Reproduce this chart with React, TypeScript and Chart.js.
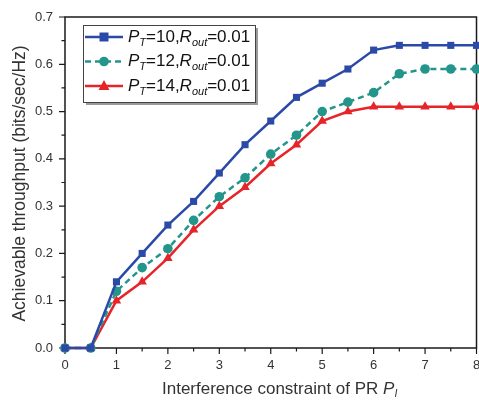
import React, { useEffect, useRef } from 'react';
import { Chart, registerables } from 'chart.js';
Chart.register(...registerables);

const xValues = [0, 0.5, 1, 1.5, 2, 2.5, 3, 3.5, 4, 4.5, 5, 5.5, 6, 6.5, 7, 7.5, 8];
const seriesPT10 = [0, 0, 0.14, 0.20, 0.26, 0.31, 0.37, 0.43, 0.48, 0.53, 0.56, 0.59, 0.63, 0.64, 0.64, 0.64, 0.64];
const seriesPT12 = [0, 0, 0.12, 0.17, 0.21, 0.27, 0.32, 0.36, 0.41, 0.45, 0.50, 0.52, 0.54, 0.58, 0.59, 0.59, 0.59];
const seriesPT14 = [0, 0, 0.10, 0.14, 0.19, 0.25, 0.30, 0.34, 0.39, 0.43, 0.48, 0.50, 0.51, 0.51, 0.51, 0.51, 0.51];
const ptValues = ['10', '12', '14'];
const routValue = '0.01';
const xMinorTicks = [0, 0.5, 1, 1.5, 2, 2.5, 3, 3.5, 4, 4.5, 5, 5.5, 6, 6.5, 7, 7.5, 8];
const yMinorTicks = [0, 0.05, 0.1, 0.15, 0.2, 0.25, 0.3, 0.35, 0.4, 0.45, 0.5, 0.55, 0.6, 0.65, 0.7];
const yTitle = 'Achievable throughput (bits/sec/Hz)';
const xTitle = 'Interference constraint of PR ';

const BLUE = '#2b4aa8';
const TEAL = '#24958a';
const RED = '#e5252a';
const FONT = '"Liberation Sans", Arial, sans-serif';

type Seg = { t: string; it?: boolean; sub?: boolean };

function drawRich(ctx: CanvasRenderingContext2D, segs: Seg[], x: number, y: number, size: number, subSize: number, color: string) {
  ctx.fillStyle = color;
  ctx.textBaseline = 'middle';
  ctx.textAlign = 'left';
  let cx = x;
  for (const s of segs) {
    const sz = s.sub ? subSize : size;
    ctx.font = `${s.it ? 'italic ' : ''}${sz}px ${FONT}`;
    ctx.fillText(s.t, cx, s.sub ? y + size * 0.32 : y);
    cx += ctx.measureText(s.t).width;
  }
  return cx - x;
}

function marker(ctx: CanvasRenderingContext2D, kind: string, x: number, y: number, color: string) {
  ctx.fillStyle = color;
  ctx.beginPath();
  if (kind === 'rect') {
    ctx.rect(x - 4.5, y - 4.5, 9, 9);
  } else if (kind === 'circle') {
    ctx.arc(x, y, 4.8, 0, Math.PI * 2);
  } else {
    ctx.moveTo(x, y - 6);
    ctx.lineTo(x + 5.5, y + 4);
    ctx.lineTo(x - 5.5, y + 4);
    ctx.closePath();
  }
  ctx.fill();
}

const decor = {
  id: 'decor',
  beforeDatasetsDraw(chart: any) {
    const { ctx, chartArea: a, scales } = chart;
    const xs = scales.x, ys = scales.y;
    ctx.save();
    ctx.strokeStyle = '#1a1a1a';
    ctx.lineWidth = 1.5;
    ctx.strokeRect(a.left, a.top, a.right - a.left, a.bottom - a.top);
    ctx.lineWidth = 1.2;
    ctx.beginPath();
    for (const v of xMinorTicks) {
      const px = xs.getPixelForValue(v);
      const len = Math.abs(v - Math.round(v)) < 1e-6 ? 6 : 3.5;
      ctx.moveTo(px, a.bottom);
      ctx.lineTo(px, a.bottom + len);
    }
    for (const v of yMinorTicks) {
      const py = ys.getPixelForValue(v);
      const major = Math.abs(v * 10 - Math.round(v * 10)) < 1e-6;
      const len = major ? 6 : 3.5;
      ctx.moveTo(a.left, py);
      ctx.lineTo(a.left - len, py);
    }
    ctx.stroke();
    ctx.restore();
  },
  afterDraw(chart: any) {
    const { ctx, chartArea: a } = chart;
    ctx.save();
    // y title
    ctx.save();
    ctx.translate(20, 183.5);
    ctx.rotate(-Math.PI / 2);
    ctx.font = `17.5px ${FONT}`;
    ctx.fillStyle = '#333';
    ctx.textAlign = 'center';
    ctx.textBaseline = 'middle';
    ctx.fillText(yTitle, 0, 0);
    ctx.restore();
    // x title
    const xsegs: Seg[] = [{ t: xTitle }, { t: 'P', it: true }, { t: 'I', it: true, sub: true }];
    drawRich(ctx, xsegs, 162, 389, 17, 10.5, '#333');

    // legend
    const bx = a.left + 18, by = a.top + 8, bw = 172, bh = 77;
    ctx.fillStyle = '#9a9a9a';
    ctx.fillRect(bx + 3, by + 3, bw, bh);
    ctx.fillStyle = '#fff';
    ctx.fillRect(bx, by, bw, bh);
    ctx.strokeStyle = '#444';
    ctx.lineWidth = 1;
    ctx.strokeRect(bx + 0.5, by + 0.5, bw, bh);
    const rows = [
      { c: BLUE, k: 'rect', dash: [] as number[] },
      { c: TEAL, k: 'circle', dash: [6, 4] },
      { c: RED, k: 'tri', dash: [] as number[] },
    ];
    rows.forEach((r, i) => {
      const y = by + 12 + i * 24.5;
      ctx.strokeStyle = r.c;
      ctx.lineWidth = 2.5;
      ctx.setLineDash(r.dash);
      ctx.beginPath();
      ctx.moveTo(bx + 2, y);
      ctx.lineTo(bx + 40, y);
      ctx.stroke();
      ctx.setLineDash([]);
      marker(ctx, r.k, bx + 21, y, r.c);
      drawRich(ctx, [
        { t: 'P', it: true }, { t: 'T', it: true, sub: true }, { t: '=' + ptValues[i] + ',' },
        { t: 'R', it: true }, { t: 'out', it: true, sub: true }, { t: '=' + routValue },
      ], bx + 45, y, 17, 11, '#111');
    });
    ctx.restore();
  },
};

export default function App() {
  const ref = useRef<HTMLCanvasElement | null>(null);
  useEffect(() => {
    if (!ref.current) return;
    const mk = (data: number[], color: string, style: string, dash: number[], radius: number) => ({
      data: xValues.map((x, i) => ({ x, y: data[i] })),
      borderColor: color,
      backgroundColor: color,
      borderWidth: 2.5,
      borderDash: dash,
      pointStyle: style,
      pointRadius: radius,
      pointBorderWidth: 0,
      pointBackgroundColor: color,
      tension: 0,
      clip: false as any,
    });
    const chart = new Chart(ref.current, {
      type: 'line',
      data: {
        datasets: [
          mk(seriesPT10, BLUE, 'rect', [], 5),
          mk(seriesPT12, TEAL, 'circle', [6, 4], 4.8),
          mk(seriesPT14, RED, 'triangle', [], 5.5),
        ],
      },
      plugins: [decor],
      options: {
        responsive: false,
        animation: false,
        layout: { padding: { top: 17, right: 0, left: 0, bottom: 0 } },
        plugins: { legend: { display: false }, tooltip: { enabled: false } },
        scales: {
          x: {
            type: 'linear',
            min: 0,
            max: 8,
            grid: { display: false, drawTicks: false },
            border: { display: false },
            ticks: { stepSize: 1, padding: 10, color: '#333', font: { family: FONT, size: 13 }, maxRotation: 0 },
            afterFit: (s: any) => { s.height = 55; s.paddingLeft = 0; s.paddingRight = 0; },
          },
          y: {
            min: 0,
            max: 0.7,
            grid: { display: false, drawTicks: false },
            border: { display: false },
            ticks: { stepSize: 0.1, padding: 12, color: '#333', font: { family: FONT, size: 13 }, callback: (v: any) => Number(v).toFixed(1) },
            afterFit: (s: any) => { s.width = 65; s.paddingTop = 0; s.paddingBottom = 0; },
          },
        },
      },
    });
    return () => chart.destroy();
  }, []);
  return (
    <div style={{ position: 'fixed', left: 0, top: 0, width: 479, height: 403, overflow: 'hidden', background: '#fff' }}>
      <canvas ref={ref} width={482} height={403} style={{ display: 'block', width: 482, height: 403 }} />
    </div>
  );
}
